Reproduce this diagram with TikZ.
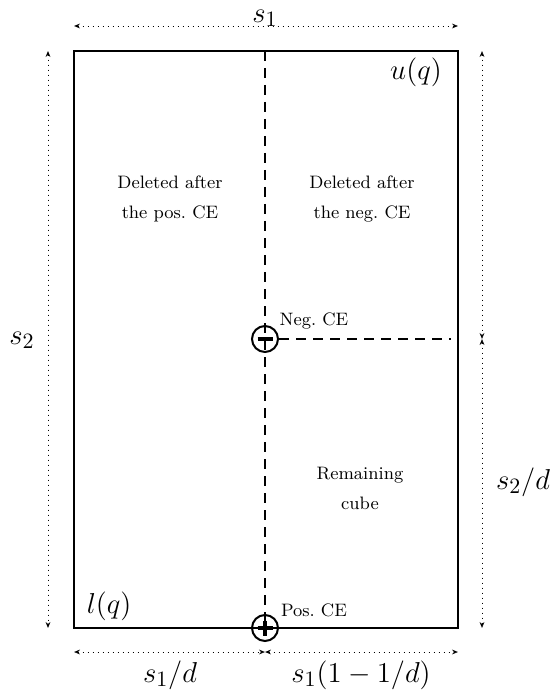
\documentclass[tikz,border=0pt]{standalone}
\usetikzlibrary{arrows.meta}
\begin{document}
\begin{tikzpicture}[x=0.5pt,y=-0.5pt,
  dimtip/.tip={Stealth[open,length=3pt,width=2.4pt]},
  dim/.style={dimtip-dimtip,line width=0.4pt,dash pattern=on 0.4pt off 2.1pt},
  cut/.style={line width=1pt,dash pattern=on 5pt off 3.5pt},
  ce/.style={circle,draw,line width=1pt,minimum size=13pt,inner sep=0pt},
  lbl/.style={font=\fontsize{9}{11}\selectfont,align=center},
  sz/.style={font=\fontsize{15.5}{18}\selectfont,inner sep=0.5pt}]
\useasboundingbox (0,0) rectangle (552,695);
% cube
\coordinate (tl) at (74,51);
\coordinate (br) at (458,628);
\coordinate (vtop) at (265,51);
\coordinate (hend) at (451,339);
\draw[line width=1.2pt] (tl) rectangle (br);
\node[ce] (neg) at (265,339) {};
\node[ce] (pos) at (265,628) {};
\draw[cut] (vtop) -- (pos.center);
\draw[cut] (neg.east) -- (hend);
\draw[line width=1.6pt] (neg.center) ++(-7.5,0) -- ++(15,0);
\draw[line width=1.6pt] (pos.center) ++(-7.5,0) -- ++(15,0)
   (pos.center) ++(0,-7.5) -- ++(0,15);
% texts
\node[sz] (uq) at (416,72) {$u(q)$};
\node[sz] (lq) at (109,606) {$l(q)$};
\node[lbl] (negtxt) at (314,321) {Neg.\ CE};
\node[lbl] (postxt) at (314,610) {Pos.\ CE};
\node[lbl] (delpos) at (170,199) {Deleted after\\[4pt]the pos.\ CE};
\node[lbl] (delneg) at (362,199) {Deleted after\\[4pt]the neg.\ CE};
\node[lbl] (rem) at (360,488) {Remaining\\[4pt]cube};
% dimensions
\draw[dim] (74,26) -- (458,26);
\draw[dim] (48,51) -- (48,628);
\foreach \a/\b in {51/339,339/628} {
   \draw[dim] (482,\a) -- (482,\b);
}
\foreach \a/\b in {74/265,265/458} {
   \draw[dim] (\a,652) -- (\b,652);
}
\node[sz] (sa) at (265,18) {$s_1$};
\node[sz] (sb) at (22,340) {$s_2$};
\node[sz] (sbd) at (523,482) {$s_2/d$};
\node[sz] (sad) at (170,675) {$s_1/d$};
\node[sz] (sarest) at (361,675) {$s_1(1-1/d)$};
\end{tikzpicture}
\end{document}
